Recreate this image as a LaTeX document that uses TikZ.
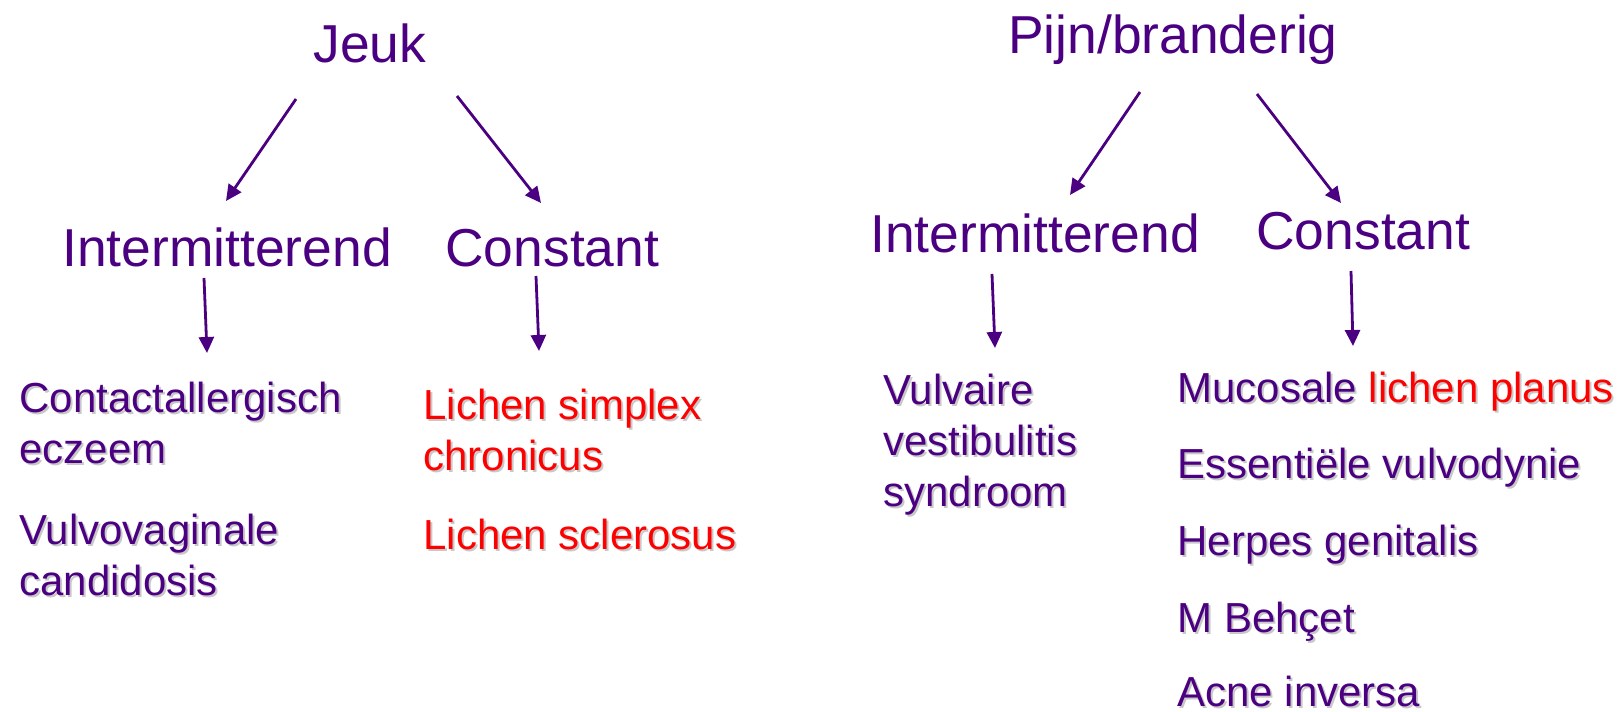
\documentclass[tikz,border=0pt]{standalone}
\usepackage{fontspec}
\setmainfont{Liberation Sans}
\definecolor{vul_purple}{RGB}{75, 0, 130}
\definecolor{vul_red}{RGB}{255, 0, 0}
\definecolor{shade_grey}{RGB}{200, 200, 200}
\usetikzlibrary{arrows.meta}
% text with a soft drop shadow
\newcommand{\hlcol}{vul_red}
\newcommand{\hl}[1]{\textcolor{\hlcol}{#1}}
\newcommand{\shtext}[1]{\leavevmode\rlap{\def\hlcol{shade_grey}%
  \color{shade_grey}\kern1pt\raisebox{-1pt}{#1}}#1}

\begin{document}
\begin{tikzpicture}[x=0.5pt, y=-0.5pt,
    head/.style={text=vul_purple, inner sep=0pt,
                 font=\fontsize{26.7}{32}\selectfont},
    item/.style={text=vul_purple, inner sep=0pt, align=left,
                 anchor=base west, font=\fontsize{21}{25.5}\selectfont},
    arr/.style={-{Triangle[length=8pt, width=7.5pt]}, vul_purple,
                line width=1.4pt}]
  \useasboundingbox (0,0) rectangle (1624,712);

  % Jeuk
  \node[head, anchor=base] (jeuk) at (370,62) {Jeuk};
  \node[head, anchor=base west] (inter1) at (62,266) {Intermitterend};
  \node[head, anchor=base west] (const1) at (445,266) {Constant};
  \node[item] (contact) at (19,463)
    {\shtext{Contactallergisch}\\\shtext{eczeem}};
  \node[item] (candida) at (19,595)
    {\shtext{Vulvovaginale}\\\shtext{candidosis}};
  \node[item, text=vul_red] (simplex) at (423,470)
    {\shtext{Lichen simplex}\\\shtext{chronicus}};
  \node[item, text=vul_red] (sclerosus) at (423,549)
    {\shtext{Lichen sclerosus}};

  % Pijn/branderig
  \node[head, anchor=base] (pijn) at (1173,54) {Pijn/branderig};
  \node[head, anchor=base west] (inter2) at (870,252) {Intermitterend};
  \node[head, anchor=base west] (const2) at (1256,249) {Constant};
  \node[item] (vestib) at (883,506)
    {\shtext{Vulvaire}\\\shtext{vestibulitis}\\\shtext{syndroom}};
  \node[item] (planus) at (1177,402)
    {\shtext{Mucosale \hl{lichen planus}}};
  \node[item] (vulvod) at (1177,478) {\shtext{Essentiële vulvodynie}};
  \node[item] (herpes) at (1177,555) {\shtext{Herpes genitalis}};
  \node[item] (behcet) at (1177,632) {\shtext{M Behçet}};
  \node[item] (acne) at (1177,706) {\shtext{Acne inversa}};

  % arrow ends
  \coordinate (jeuk-l) at (296,99);   \coordinate (inter1-t) at (226,201);
  \coordinate (jeuk-r) at (457,96);   \coordinate (const1-t) at (541,203);
  \coordinate (inter1-b) at (204,278); \coordinate (contact-t) at (207,353);
  \coordinate (const1-b) at (536,276); \coordinate (simplex-t) at (539,351);
  \coordinate (pijn-l) at (1140,92);  \coordinate (inter2-t) at (1070,195);
  \coordinate (pijn-r) at (1257,94);  \coordinate (const2-t) at (1341,203);
  \coordinate (inter2-b) at (992,274); \coordinate (vestib-t) at (995,348);
  \coordinate (const2-b) at (1351,271); \coordinate (planus-t) at (1353,346);

  \draw[arr] (jeuk-l) -- (inter1-t);
  \draw[arr] (jeuk-r) -- (const1-t);
  \draw[arr] (inter1-b) -- (contact-t);
  \draw[arr] (const1-b) -- (simplex-t);
  \draw[arr] (pijn-l) -- (inter2-t);
  \draw[arr] (pijn-r) -- (const2-t);
  \draw[arr] (inter2-b) -- (vestib-t);
  \draw[arr] (const2-b) -- (planus-t);
\end{tikzpicture}
\end{document}
